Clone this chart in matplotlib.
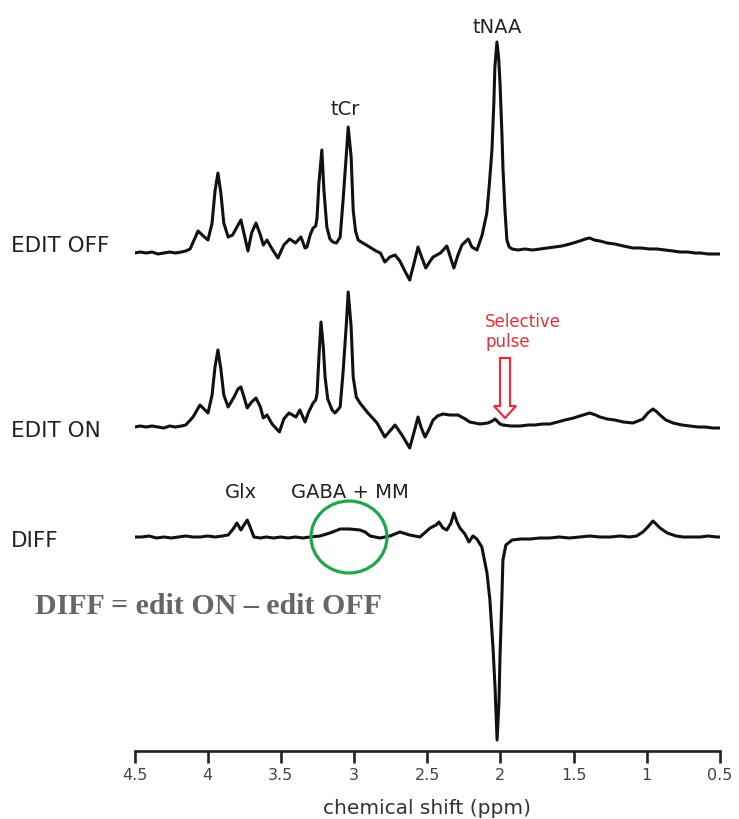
import matplotlib
matplotlib.use("Agg")
import matplotlib.pyplot as plt
from matplotlib.patches import Ellipse, FancyArrow

# ---------------- data ----------------
# intensities are relative to each trace's own baseline (arbitrary units)
off_ppm = [4.50, 4.46, 4.42, 4.38, 4.34, 4.30, 4.26, 4.22, 4.18, 4.15, 4.12, 4.09, 4.066, 4.03, 3.998,
           3.97, 3.95, 3.93, 3.91, 3.89, 3.86, 3.83, 3.80, 3.773, 3.745, 3.725, 3.70, 3.67, 3.64, 3.62,
           3.595, 3.56, 3.52, 3.48, 3.44, 3.40, 3.363, 3.335, 3.322, 3.30, 3.28, 3.262, 3.253, 3.24,
           3.22, 3.206, 3.186, 3.165, 3.145, 3.12, 3.095, 3.075, 3.054, 3.04, 3.02, 3.006, 2.99, 2.972,
           2.94, 2.905, 2.85, 2.82, 2.79, 2.755, 2.72, 2.687, 2.653, 2.62, 2.59, 2.563, 2.536, 2.51,
           2.48, 2.46, 2.41, 2.366, 2.34, 2.318, 2.29, 2.263, 2.22, 2.195, 2.16, 2.125, 2.093, 2.075,
           2.058, 2.045, 2.038, 2.024, 2.012, 2.003, 1.99, 1.983, 1.97, 1.956, 1.94, 1.92, 1.88, 1.833,
           1.78, 1.73, 1.68, 1.63, 1.58, 1.525, 1.458, 1.42, 1.39, 1.36, 1.32, 1.27, 1.22, 1.16, 1.095,
           1.04, 0.98, 0.93, 0.877, 0.82, 0.773, 0.72, 0.67, 0.636, 0.58, 0.52, 0.50]
off_int = [0, 1, 0, 1, -1, 0, 1, 0, 1, 2, 4, 14, 22, 17, 13,
           30, 62, 80, 60, 30, 16, 18, 26, 33, 15, 2, 20, 30, 18, 8,
           13, 4, -5, 8, 14, 10, 16, 5, 6, 18, 25, 27, 35, 70,
           103, 63, 26, 14, 11, 10, 16, 53, 96, 126, 96, 43, 22, 13,
           10, 7, 2, 0, -9, -4, -2, -8, -18, -27, -10, 6, -5, -15,
           -8, -4, 0, 7, -5, -15, -2, 8, 14, 6, 3, 18, 40, 70,
           103, 150, 186, 211, 195, 170, 120, 86, 45, 13, 6, 4, 3, 4,
           3, 4, 5, 6, 7, 9, 12, 14, 15, 13, 12, 10, 9, 7, 5,
           5, 4, 4, 3, 2, 1, 1, 0, 0, -1, -1, -1]

on_ppm = [4.50, 4.46, 4.42, 4.38, 4.34, 4.30, 4.26, 4.22, 4.18, 4.15, 4.10, 4.053, 4.025, 3.998,
          3.97, 3.95, 3.93, 3.91, 3.89, 3.86, 3.82, 3.793, 3.773, 3.752, 3.73, 3.70, 3.67, 3.64, 3.62,
          3.595, 3.56, 3.51, 3.48, 3.445, 3.397, 3.37, 3.335, 3.31, 3.28, 3.262, 3.253, 3.24, 3.226,
          3.21, 3.198, 3.18, 3.15, 3.13, 3.095, 3.075, 3.054, 3.04, 3.02, 3.006, 2.985, 2.96, 2.905,
          2.843, 2.79, 2.755, 2.72, 2.673, 2.62, 2.59, 2.563, 2.543, 2.515, 2.49, 2.46, 2.43, 2.393,
          2.345, 2.29, 2.24, 2.21, 2.14, 2.086, 2.055, 2.037, 2.003, 1.983, 1.93, 1.867, 1.81, 1.764,
          1.71, 1.662, 1.61, 1.56, 1.50, 1.458, 1.39, 1.35, 1.32, 1.27, 1.22, 1.16, 1.095, 1.06, 1.027,
          0.993, 0.958, 0.93, 0.91, 0.87, 0.82, 0.76, 0.706, 0.65, 0.603, 0.55, 0.50]
on_int = [0, 1, 0, 1, 0, -1, 1, 0, 1, 2, 10, 22, 18, 14,
          32, 60, 77, 58, 32, 20, 30, 38, 40, 30, 19, 25, 29, 20, 9,
          12, 3, -5, 8, 14, 10, 17, 5, 15, 24, 27, 33, 70, 105,
          80, 50, 28, 17, 14, 20, 55, 100, 135, 100, 50, 30, 24, 14,
          4, -10, -4, 2, -8, -21, -5, 10, 0, -10, -3, 7, 11, 13,
          12, 12, 8, 5, 3, 4, 6, 8, 3, 2, 1, 1, 2, 2,
          3, 3, 5, 7, 9, 11, 14, 12, 10, 8, 7, 5, 4, 6, 8,
          14, 18, 15, 12, 7, 4, 2, 1, 0, 0, -1, -1]

diff_ppm = [4.50, 4.45, 4.40, 4.35, 4.30, 4.25, 4.20, 4.15, 4.10, 4.05, 4.00, 3.95, 3.90, 3.86,
            3.826, 3.80, 3.773, 3.752, 3.73, 3.71, 3.684, 3.64, 3.60, 3.55, 3.50, 3.45, 3.40, 3.35,
            3.30, 3.233, 3.165, 3.095, 3.03, 2.96, 2.925, 2.89, 2.823, 2.755, 2.687, 2.62, 2.55,
            2.48, 2.44, 2.42, 2.393, 2.366, 2.338, 2.318, 2.297, 2.277, 2.243, 2.215, 2.188, 2.161,
            2.127, 2.092, 2.072, 2.05, 2.037, 2.023, 2.01, 2.003, 1.99, 1.983, 1.963, 1.92, 1.86,
            1.798, 1.73, 1.662, 1.60, 1.53, 1.458, 1.39, 1.32, 1.25, 1.18, 1.12, 1.07, 1.027, 0.993,
            0.958, 0.93, 0.91, 0.86, 0.80, 0.75, 0.69, 0.636, 0.58, 0.52, 0.50]
diff_int = [0, 0, 1, -1, 0, -1, 0, 1, 0, 0, 1, 0, 1, 2,
            8, 14, 7, 12, 17, 10, 0, -1, 0, -1, 0, -1, 0, -1,
            0, 1, 4, 8, 8, 7, 5, 1, -1, 1, 5, 2, 0,
            9, 12, 15, 9, 7, 14, 24, 15, 9, 3, -5, 1, -2,
            -10, -36, -63, -113, -150, -203, -165, -120, -60, -23, -8, -3, -2,
            -2, -1, -1, 0, -1, 0, 1, 0, 0, 1, 0, 1, 5, 10,
            16, 12, 9, 4, 1, 0, 0, 0, 1, 0, 0]

tick_values = [4.5, 4.0, 3.5, 3.0, 2.5, 2.0, 1.5, 1.0, 0.5]
tick_labels = ["4.5", "4", "3.5", "3", "2.5", "2", "1.5", "1", "0.5"]
trace_names = ["EDIT OFF", "EDIT ON", "DIFF"]

# ---------------- layout ----------------
W, H = 739, 819
fig = plt.figure(figsize=(W / 100, H / 100), dpi=100)
fig.patch.set_facecolor("white")

ax_left_px, ax_right_px, ax_bottom_px = 134.5, 720, 751
ax = fig.add_axes([ax_left_px / W, (H - ax_bottom_px) / H,
                   (ax_right_px - ax_left_px) / W, ax_bottom_px / H])
ax.set_xlim(4.5, 0.5)
ax.set_ylim(0, ax_bottom_px)          # 1 y-unit == 1 pixel


def ypx(py):
    """pixel row (from top) -> data y"""
    return ax_bottom_px - py


def fx(px_):
    return px_ / W


def fy(py):
    return 1 - py / H


baselines = [ypx(253), ypx(427), ypx(537)]
series = [(off_ppm, off_int), (on_ppm, on_int), (diff_ppm, diff_int)]
for (xs, ys), b in zip(series, baselines):
    ax.plot(xs, [b + v for v in ys], color="#111111", lw=2.2,
            solid_joinstyle="round", solid_capstyle="round")

# axis styling
for s in ["top", "left", "right"]:
    ax.spines[s].set_visible(False)
ax.spines["bottom"].set_linewidth(1.9)
ax.spines["bottom"].set_color("#222222")
ax.set_yticks([])
ax.set_xticks(tick_values)
ax.set_xticklabels(tick_labels, fontsize=11.5, color="#444444", family="DejaVu Sans")
ax.tick_params(axis="x", direction="out", length=8.5, width=1.9, color="#222222", pad=4)
ax.set_xlabel("chemical shift (ppm)", fontsize=14.5, color="#333333",
              family="DejaVu Sans", labelpad=11)

# trace labels
lab_y = [252, 437, 547]
for name, py in zip(trace_names, lab_y):
    fig.text(fx(11), fy(py), name, fontsize=15.5, color="#222222",
             family="DejaVu Sans", ha="left", va="baseline")

# peak annotations
ann = dict(fontsize=14, color="#222222", family="DejaVu Sans", ha="center", va="baseline")
fig.text(fx(345), fy(115), "tCr", **ann)
fig.text(fx(497), fy(33), "tNAA", **ann)
fig.text(fx(241), fy(498), "Glx", **ann)
fig.text(fx(350), fy(498), "GABA + MM", **ann)

# selective pulse
red = "#e8303a"
fig.text(fx(485), fy(327), "Selective", fontsize=12, color=red,
         family="DejaVu Sans", ha="left", va="baseline")
fig.text(fx(485), fy(347), "pulse", fontsize=12, color=red,
         family="DejaVu Sans", ha="left", va="baseline")
ppm_per_px = 4.0 / (ax_right_px - ax_left_px)
arrow_x = 4.5 - (505 - ax_left_px) * ppm_per_px
ax.add_patch(FancyArrow(arrow_x, ypx(358), 0, -(418 - 358),
                        width=10 * ppm_per_px, head_width=22 * ppm_per_px,
                        head_length=12, length_includes_head=True,
                        facecolor="white", edgecolor=red, lw=1.6, zorder=5))

# green circle around GABA
circ_x = 4.5 - (349 - ax_left_px) * ppm_per_px
ax.add_patch(Ellipse((circ_x, ypx(537)), width=76 * ppm_per_px, height=72,
                     fill=False, edgecolor="#1fa64a", lw=2.3, zorder=6))

# formula
fig.text(fx(35), fy(614), "DIFF = edit ON \u2013 edit OFF", fontsize=21.5,
         fontweight="bold", color="#666666", family="Liberation Serif",
         ha="left", va="baseline")

fig.savefig("out.png", dpi=100, facecolor="white")
